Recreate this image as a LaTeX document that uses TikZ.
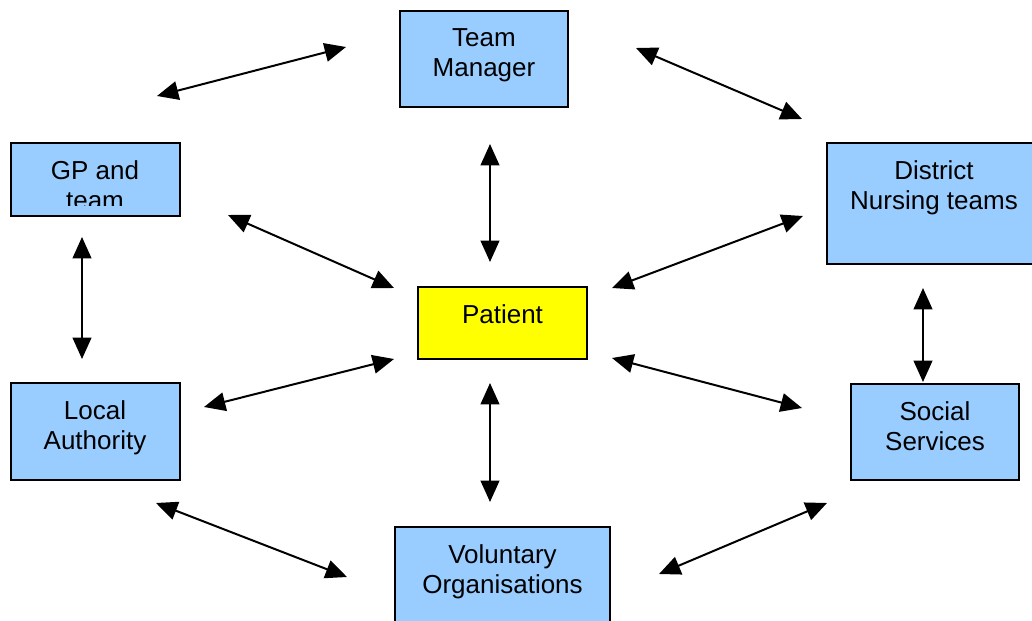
\documentclass[tikz,border=0pt]{standalone}
\usepackage{fontspec}
\setmainfont{Liberation Sans}
\usepackage{xcolor}
\usepackage{tikz}
\usetikzlibrary{positioning,arrows.meta}
\definecolor{boxblue}{HTML}{99CCFF}
\definecolor{patyellow}{HTML}{FFFF00}
\tikzset{
  box/.style={draw=black, line width=1.5pt, fill=boxblue, inner sep=0pt, outer sep=0pt},
  boxtxt/.style={anchor=north, align=center, inner sep=0pt,
    font=\fontsize{19.5}{22.5}\selectfont},
  link/.style={line width=1.5pt, {Triangle[length=16pt,width=14pt]}-{Triangle[length=16pt,width=14pt]}}
}
\begin{document}
\begin{tikzpicture}[x=0.75pt,y=-0.75pt]
\useasboundingbox (0,0) rectangle (1032,621);
\clip (0,0) rectangle (1032,621);
\node[box, minimum width=126pt, minimum height=72pt] (tm) at (484,59) {};
\node[box, minimum width=126.75pt, minimum height=54.75pt] (gp) at (95,179.5) {};
\node[box, minimum width=160.5pt, minimum height=90.75pt] (dn) at (934,203.5) {};
\node[box, fill=patyellow, minimum width=126.75pt, minimum height=54pt] (pt) at (502.5,323) {};
\node[box, minimum width=126.75pt, minimum height=72.75pt] (la) at (95,431.5) {};
\node[box, minimum width=126pt, minimum height=72pt] (ss) at (935,432) {};
\node[box, minimum width=161.25pt, minimum height=72pt] (vo) at (502.5,575) {};
\node[boxtxt] (tmtxt) at ([yshift=-12.75pt]tm.north) {Team\\Manager};
\begin{scope}
\clip ([xshift=1pt,yshift=-1pt]gp.north west) rectangle ([yshift=8.25pt]gp.south east);
\node[boxtxt] (gptxt) at ([yshift=-12.75pt]gp.north) {GP and\\team};
\end{scope}
\node[boxtxt] (dntxt) at ([yshift=-12.75pt]dn.north) {District\\Nursing teams};
\node[boxtxt] (pttxt) at ([yshift=-12.75pt]pt.north) {Patient};
\node[boxtxt] (latxt) at ([yshift=-12.75pt]la.north) {Local\\Authority};
\node[boxtxt] (sstxt) at ([yshift=-12.75pt]ss.north) {Social\\Services};
\node[boxtxt] (votxt) at ([yshift=-12.75pt]vo.north) {Voluntary\\Organisations};
\coordinate (gp-tm) at (157,96);  \coordinate (tm-gp) at (346,47);
\coordinate (tm-dn) at (636,48);  \coordinate (dn-tm) at (802,119);
\coordinate (tm-pt) at (490,144); \coordinate (pt-tm) at (490,262);
\coordinate (gp-pt) at (228,215); \coordinate (pt-gp) at (394,288);
\coordinate (la-pt) at (204,407); \coordinate (pt-la) at (394,359);
\coordinate (pt-dn) at (612,288); \coordinate (dn-pt) at (803,216);
\coordinate (pt-ss) at (612,358); \coordinate (ss-pt) at (802,408);
\coordinate (gp-la) at (82,237);  \coordinate (la-gp) at (82,359);
\coordinate (pt-vo) at (490,383); \coordinate (vo-pt) at (490,502);
\coordinate (la-vo) at (156,503); \coordinate (vo-la) at (347,577);
\coordinate (vo-ss) at (659,574); \coordinate (ss-vo) at (827,503);
\coordinate (dn-ss) at (923,288); \coordinate (ss-dn) at (923,382);
\draw[link] (gp-tm) -- (tm-gp);
\draw[link] (tm-dn) -- (dn-tm);
\draw[link] (tm-pt) -- (pt-tm);
\draw[link] (gp-pt) -- (pt-gp);
\draw[link] (la-pt) -- (pt-la);
\draw[link] (pt-dn) -- (dn-pt);
\draw[link] (pt-ss) -- (ss-pt);
\draw[link] (gp-la) -- (la-gp);
\draw[link] (pt-vo) -- (vo-pt);
\draw[link] (la-vo) -- (vo-la);
\draw[link] (vo-ss) -- (ss-vo);
\draw[link] (dn-ss) -- (ss-dn);
\end{tikzpicture}
\end{document}
